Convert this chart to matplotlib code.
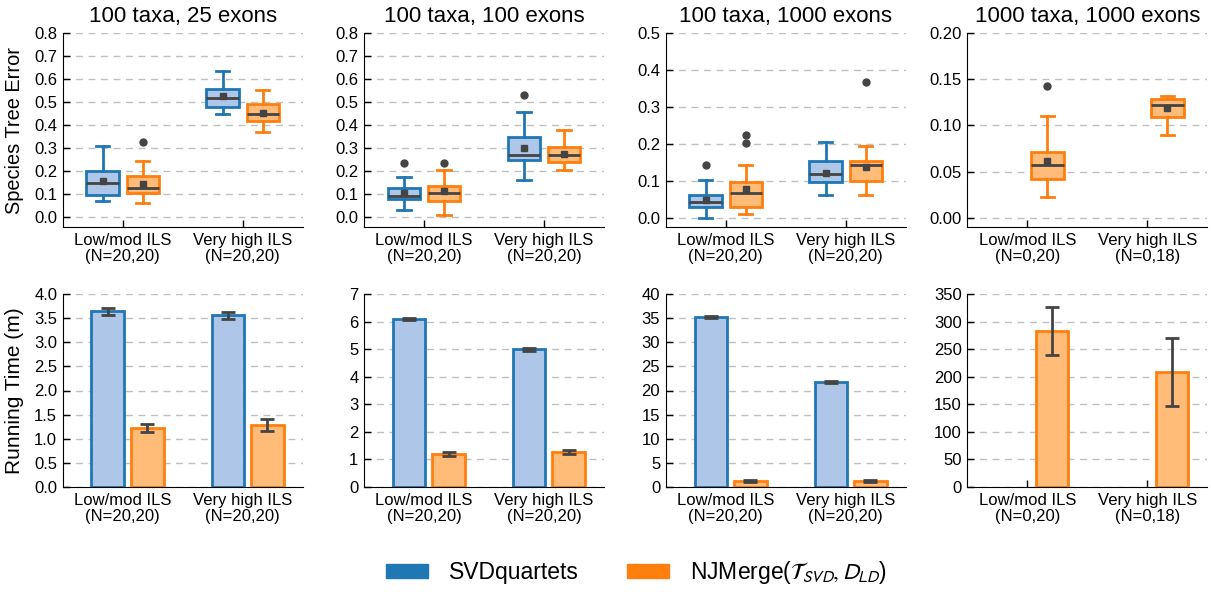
import matplotlib
matplotlib.use('Agg')
import matplotlib.pyplot as plt
from matplotlib.patches import Patch

plt.rcParams['font.family'] = ['Liberation Sans', 'DejaVu Sans']
plt.rcParams['mathtext.fontset'] = 'stixsans'

# ---------------- data ----------------
categories = ['Low/mod ILS', 'Very high ILS']
titles = ['100 taxa, 25 exons', '100 taxa, 100 exons', '100 taxa, 1000 exons', '1000 taxa, 1000 exons']
n_labels = [['(N=20,20)', '(N=20,20)'], ['(N=20,20)', '(N=20,20)'],
            ['(N=20,20)', '(N=20,20)'], ['(N=0,20)', '(N=0,18)']]
series_names = ['SVDquartets', r'NJMerge($\mathcal{T}_{SVD}, D_{LD}$)']

# Species tree error box statistics (per panel, per category)
svd_lo = [[0.070, 0.447], [0.029, 0.160], [0.000, 0.061], [None, None]]
svd_q1 = [[0.094, 0.477], [0.076, 0.247], [0.030, 0.097], [None, None]]
svd_med = [[0.148, 0.518], [0.090, 0.269], [0.042, 0.118], [None, None]]
svd_q3 = [[0.200, 0.556], [0.124, 0.346], [0.062, 0.153], [None, None]]
svd_hi = [[0.307, 0.633], [0.172, 0.458], [0.102, 0.204], [None, None]]
svd_mean = [[0.155, 0.527], [0.102, 0.298], [0.047, 0.122], [None, None]]
svd_fliers = [[[], []], [[0.233], [0.528]], [[0.144], []], [[], []]]

nj_lo = [[0.060, 0.367], [0.009, 0.202], [0.010, 0.061], [0.022, 0.090]]
nj_q1 = [[0.105, 0.416], [0.067, 0.240], [0.029, 0.100], [0.042, 0.1095]]
nj_med = [[0.125, 0.448], [0.103, 0.270], [0.067, 0.144], [0.0569, 0.1225]]
nj_q3 = [[0.176, 0.489], [0.135, 0.302], [0.097, 0.154], [0.0707, 0.129]]
nj_hi = [[0.243, 0.552], [0.202, 0.377], [0.144, 0.195], [0.110, 0.132]]
nj_mean = [[0.144, 0.451], [0.110, 0.275], [0.078, 0.137], [0.0616, 0.1185]]
nj_fliers = [[[0.326], []], [[0.233], []], [[0.224, 0.203], [0.367]], [[0.143], []]]

# Running time (minutes): mean and error
svd_time = [[3.64, 3.56], [6.09, 5.00], [35.3, 21.7], [None, None]]
svd_time_err = [[0.07, 0.07], [0.05, 0.05], [0.2, 0.2], [None, None]]
nj_time = [[1.22, 1.28], [1.20, 1.27], [1.3, 1.3], [283, 208]]
nj_time_err = [[0.08, 0.12], [0.07, 0.08], [0.2, 0.2], [44, 62]]

err_ylims = [(-0.045, 0.8), (-0.045, 0.8), (-0.025, 0.5), (-0.01, 0.2)]
err_ticks = [[0, .1, .2, .3, .4, .5, .6, .7, .8], [0, .1, .2, .3, .4, .5, .6, .7, .8],
             [0, .1, .2, .3, .4, .5], [0, .05, .10, .15, .20]]
err_fmt = ['{:.1f}', '{:.1f}', '{:.1f}', '{:.2f}']
time_ylims = [(0, 4), (0, 7), (0, 40), (0, 350)]
time_ticks = [[0, .5, 1, 1.5, 2, 2.5, 3, 3.5, 4], [0, 1, 2, 3, 4, 5, 6, 7],
              [0, 5, 10, 15, 20, 25, 30, 35, 40], [0, 50, 100, 150, 200, 250, 300, 350]]
time_fmt = ['{:.1f}', '{:.0f}', '{:.0f}', '{:.0f}']

# ---------------- style ----------------
BLUE_E, BLUE_F = '#1f77b4', '#aec7e8'
ORNG_E, ORNG_F = '#ff7f0e', '#ffbb78'
DARK = '#444444'

W, H = 1211, 592
fig = plt.figure(figsize=(W / 100, H / 100), dpi=100)
lefts = [62.7, 364, 665.7, 967.3]


def style_ax(ax):
    ax.spines['top'].set_visible(False)
    ax.spines['right'].set_visible(False)
    ax.tick_params(direction='in', length=5, width=1, labelsize=12, pad=4)
    ax.yaxis.grid(True, linestyle=(0, (5, 4)), color='#c0c0c0', linewidth=1)
    ax.set_axisbelow(True)
    ax.set_xlim(-0.5, 1.5)
    ax.set_xticks([0, 1])


def draw_box(ax, pos, st, edge, fill):
    ax.bxp([st], positions=[pos], widths=0.27, patch_artist=True, showmeans=True,
           showfliers=True, manage_ticks=False, capwidths=0.11,
           boxprops=dict(facecolor=fill, edgecolor=edge, linewidth=2),
           whiskerprops=dict(color=edge, linewidth=2),
           capprops=dict(color=edge, linewidth=2),
           medianprops=dict(color=DARK, linewidth=2),
           meanprops=dict(marker='s', markerfacecolor=DARK, markeredgecolor=DARK, markersize=4.5),
           flierprops=dict(marker='o', markerfacecolor=DARK, markeredgecolor=DARK, markersize=5))


for i in range(4):
    xl = [f'{c}\n{n}' for c, n in zip(categories, n_labels[i])]
    # top row
    ax = fig.add_axes([lefts[i] / W, 1 - 227 / H, 240 / W, 194 / H])
    style_ax(ax)
    for j in range(2):
        if svd_med[i][j] is not None:
            st = dict(med=svd_med[i][j], q1=svd_q1[i][j], q3=svd_q3[i][j], whislo=svd_lo[i][j],
                      whishi=svd_hi[i][j], mean=svd_mean[i][j], fliers=svd_fliers[i][j])
            draw_box(ax, j - 0.167, st, BLUE_E, BLUE_F)
        st = dict(med=nj_med[i][j], q1=nj_q1[i][j], q3=nj_q3[i][j], whislo=nj_lo[i][j],
                  whishi=nj_hi[i][j], mean=nj_mean[i][j], fliers=nj_fliers[i][j])
        draw_box(ax, j + 0.167, st, ORNG_E, ORNG_F)
    ax.set_ylim(*err_ylims[i])
    ax.set_yticks(err_ticks[i])
    ax.set_yticklabels([err_fmt[i].format(v) for v in err_ticks[i]])
    ax.set_xticklabels(xl, linespacing=1.15)
    ax.set_title(titles[i], fontsize=16, pad=8)
    if i == 0:
        ax.set_ylabel('Species Tree Error', fontsize=14.4)
        ax.yaxis.set_label_coords(-0.16, 0.5)

    # bottom row
    ax = fig.add_axes([lefts[i] / W, 1 - 487 / H, 240 / W, 193 / H])
    style_ax(ax)
    ekw = dict(ecolor=DARK, elinewidth=2, capthick=2)
    for j in range(2):
        if svd_time[i][j] is not None:
            ax.bar(j - 0.125, svd_time[i][j], width=0.27, color=BLUE_F, edgecolor=BLUE_E,
                   linewidth=2, yerr=svd_time_err[i][j], capsize=5, error_kw=ekw)
        ax.bar(j + 0.205, nj_time[i][j], width=0.27, color=ORNG_F, edgecolor=ORNG_E,
               linewidth=2, yerr=nj_time_err[i][j], capsize=5, error_kw=ekw)
    ax.set_ylim(*time_ylims[i])
    ax.set_yticks(time_ticks[i])
    ax.set_yticklabels([time_fmt[i].format(v) for v in time_ticks[i]])
    ax.set_xticklabels(xl, linespacing=1.15)
    if i == 0:
        ax.set_ylabel('Running Time (m)', fontsize=15)
        ax.yaxis.set_label_coords(-0.16, 0.5)

handles = [Patch(facecolor=BLUE_E, edgecolor=BLUE_E), Patch(facecolor=ORNG_E, edgecolor=ORNG_E)]
fig.legend(handles, series_names, loc='center', bbox_to_anchor=(636 / W, 1 - 573 / H),
           ncol=2, frameon=False, fontsize=16.5, handlelength=1.85, handleheight=0.55,
           handletextpad=0.9, columnspacing=2.1)

fig.savefig('out.png', dpi=100)
